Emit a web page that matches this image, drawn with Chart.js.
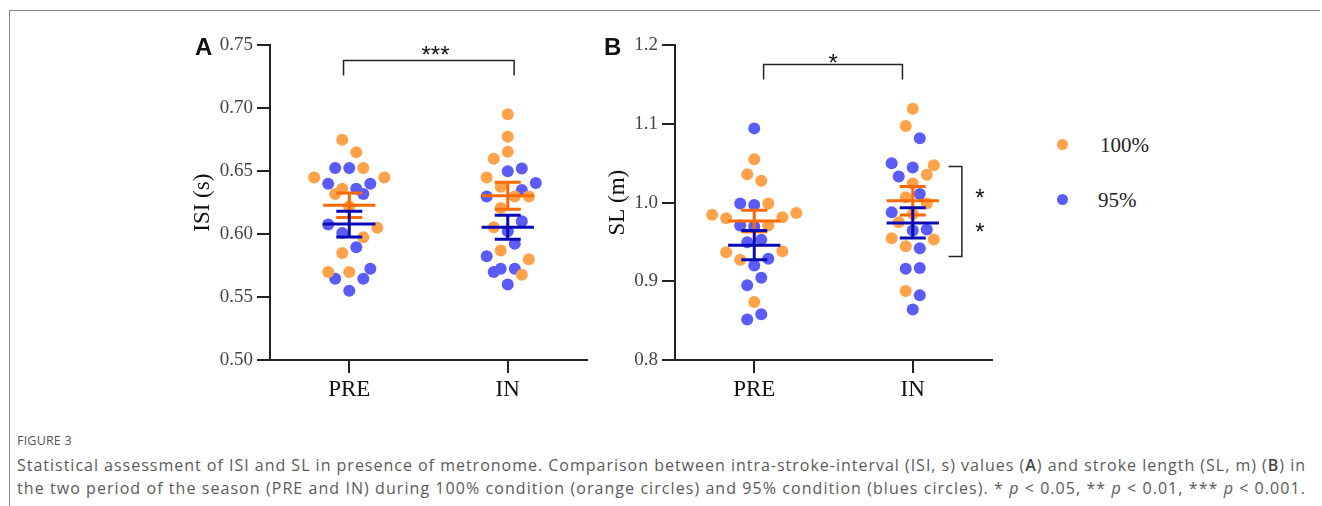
<!DOCTYPE html>
<html><head><meta charset="utf-8">
<script src="https://cdn.jsdelivr.net/npm/chart.js@4.4.0/dist/chart.umd.min.js"></script>
<style>
html,body{margin:0;padding:0;background:#fff;width:1322px;height:506px;overflow:hidden;}
#frame{position:absolute;left:9px;top:10px;width:1310px;height:500px;border-top:1px solid #8a8a8a;border-left:1px solid #8a8a8a;}
canvas{position:absolute;}
#ca{left:180px;top:30px;}
#cb{left:590px;top:30px;}
.panel{position:absolute;font:bold 24px "Liberation Sans",Arial,sans-serif;color:#111;line-height:24px;}
.leg{position:absolute;font:21px "Liberation Serif","Times New Roman",serif;color:#222;line-height:24px;}
.dot{position:absolute;width:11px;height:11px;border-radius:50%;}
#fig{position:absolute;left:17px;top:432px;font:12.5px "Open Sans",sans-serif;color:#555;letter-spacing:0.2px;}
#cap{position:absolute;left:17px;top:454px;font:16px "Open Sans",sans-serif;color:#5a5a5a;line-height:22.5px;white-space:nowrap;}
#cap span{display:inline-block;}
#cap b{color:#444;font-weight:600;}
</style></head>
<body>
<div id="frame"></div>
<canvas id="ca" width="420" height="385"></canvas>
<canvas id="cb" width="420" height="385"></canvas>
<div class="panel" style="left:195px;top:35px;">A</div>
<div class="panel" style="left:604px;top:35px;">B</div>
<div class="dot" id="d100" style="left:1057px;top:139px;"></div>
<div class="leg" id="l100" style="left:1100px;top:133px;"></div>
<div class="dot" id="d95" style="left:1057px;top:194px;"></div>
<div class="leg" id="l95" style="left:1098px;top:188px;"></div>
<div id="fig">FIGURE 3</div>
<div id="cap"><span class="ln">Statistical assessment of ISI and SL in presence of metronome. Comparison between intra-stroke-interval (ISI, s) values (<b>A</b>) and stroke length (SL, m) (<b>B</b>) in</span><br><span class="ln">the two period of the season (PRE and IN) during 100% condition (orange circles) and 95% condition (blues circles). * <i>p</i> &lt; 0.05, ** <i>p</i> &lt; 0.01, *** <i>p</i> &lt; 0.001.</span></div>
<script>
// ---------- data ----------
const categories = ['PRE', 'IN'];
const seriesNames = ['100%', '95%'];

// Panel A: ISI (s)
const isiPre100 = [0.675, 0.665, 0.6525, 0.645, 0.645, 0.636, 0.632, 0.622, 0.605, 0.5975, 0.585, 0.570, 0.570];
const isiPre100Slot = [-1, 1, 2, -5, 5, -1, -2, 0, 4, 2, -1, -3, 0];
const isiPre95 = [0.6525, 0.6525, 0.640, 0.640, 0.636, 0.632, 0.6076, 0.601, 0.5896, 0.5726, 0.5646, 0.5646, 0.555];
const isiPre95Slot = [-2, 0, -3, 3, 1, 2, -3, -1, 1, 3, -2, 2, 0];
const isiIn100 = [0.6952, 0.6775, 0.6654, 0.660, 0.645, 0.6377, 0.630, 0.630, 0.6208, 0.6055, 0.587, 0.580, 0.5678];
const isiIn100Slot = [0, 0, 0, -2, -3, -1, 1, 3, -1, -2, -1, 3, 2];
const isiIn95 = [0.650, 0.6521, 0.6406, 0.635, 0.630, 0.6102, 0.6023, 0.5923, 0.5825, 0.570, 0.5726, 0.5726, 0.560];
const isiIn95Slot = [0, 2, 4, 2, -3, 2, 0, 1, -3, -2, -1, 1, 0];
const isiMean100 = [0.6230, 0.6305];
const isiSem100 = [0.0097, 0.0107];
const isiMean95 = [0.6080, 0.6055];
const isiSem95 = [0.0102, 0.0095];
const isiTicks = [0.50, 0.55, 0.60, 0.65, 0.70, 0.75];

// Panel B: SL (m)
const slPre100 = [1.0553, 1.0363, 1.0278, 0.9991, 0.9848, 0.987, 0.9801, 0.9814, 0.9709, 0.9371, 0.9384, 0.9275, 0.8738];
const slPre100Slot = [0, -1, 1, 2, -6, 6, -4, 4, 2, -4, 4, -2, 0];
const slPre95 = [1.0945, 0.9991, 0.997, 0.9709, 0.9696, 0.9528, 0.9498, 0.9287, 0.9203, 0.9047, 0.8949, 0.8582, 0.8515];
const slPre95Slot = [0, -2, 0, -2, 0, 1, -1, 2, 0, 1, -1, 1, -1];
const slIn100 = [1.1194, 1.0975, 1.0477, 1.0354, 1.0245, 1.0068, 0.9991, 0.9857, 0.975, 0.9548, 0.9532, 0.9447, 0.8877];
const slIn100Slot = [0, -1, 3, 2, 0, -1, 2, 0, -2, -3, 3, -1, -1];
const slIn95 = [1.0819, 1.0502, 1.0447, 1.0333, 1.011, 0.9877, 0.9646, 0.9658, 0.9422, 0.9161, 0.9169, 0.8823, 0.8642];
const slIn95Slot = [1, -3, 0, -2, 1, -3, 0, 2, 1, -1, 1, 1, 0];
const slMean100 = [0.9768, 1.0025];
const slSem100 = [0.0137, 0.0180];
const slMean95 = [0.9460, 0.9743];
const slSem95 = [0.0185, 0.0193];
const slTicks = [0.8, 0.9, 1.0, 1.1, 1.2];

// ---------- styles ----------
const ORANGE = '#FFA24A', BLUE = '#5B5BF7', ORANGE_D = '#FF6A00', BLUE_D = '#0A0AB4';
const SLOT = 0.0443;        // beeswarm step in category units
const MEAN_HW = 0.165, CAP_HW = 0.082;
const SERIF = '"Liberation Serif","Times New Roman",serif';

document.getElementById('d100').style.background = ORANGE;
document.getElementById('d95').style.background = BLUE;
document.getElementById('l100').textContent = seriesNames[0];
document.getElementById('l95').textContent = seriesNames[1];

// fit caption lines to the reference width
document.querySelectorAll('#cap .ln').forEach(el => {
  const target = 1289;
  const w = el.getBoundingClientRect().width;
  const n = el.textContent.length;
  el.style.letterSpacing = ((target - w) / n) + 'px';
});

function swarm(vals, slots, cat) {
  return vals.map((v, i) => ({ x: cat + slots[i] * SLOT, y: v }));
}
function errBars(means, sems) {
  const pts = [];
  means.forEach((m, c) => {
    const s = sems[c];
    pts.push({x: c - MEAN_HW, y: m}, {x: c + MEAN_HW, y: m}, {x: c, y: null});
    pts.push({x: c, y: m - s}, {x: c, y: m + s}, {x: c, y: null});
    pts.push({x: c - CAP_HW, y: m + s}, {x: c + CAP_HW, y: m + s}, {x: c, y: null});
    pts.push({x: c - CAP_HW, y: m - s}, {x: c + CAP_HW, y: m - s}, {x: c, y: null});
  });
  return pts;
}
function lineDs(data, color, width) {
  return { data, showLine: true, borderColor: color, borderWidth: width, pointRadius: 0,
           spanGaps: false, fill: false, borderCapStyle: 'butt' };
}
function dotDs(data, color) {
  return { data, showLine: false, pointRadius: 6, pointHoverRadius: 6, pointBackgroundColor: color,
           pointBorderWidth: 0, borderColor: color };
}

const annotPlugin = {
  id: 'annot',
  afterDraw(chart, args, opts) {
    const { ctx, scales: { x, y } } = chart;
    ctx.save();
    ctx.font = opts.font; ctx.fillStyle = opts.color;
    ctx.textAlign = 'center'; ctx.textBaseline = 'alphabetic';
    (opts.items || []).forEach(it => {
      ctx.fillText(it.text, x.getPixelForValue(it.x), y.getPixelForValue(it.y) + opts.size * 0.575);
    });
    ctx.restore();
  }
};

function makeChart(id, datasets, yMin, yMax, yStep, dec, yTitle, yWidth, titlePad, padRight, items) {
  return new Chart(document.getElementById(id), {
    type: 'scatter',
    data: { datasets },
    plugins: [annotPlugin],
    options: {
      responsive: false, animation: false, devicePixelRatio: 1,
      layout: { padding: { top: 14, right: padRight, left: 0, bottom: 0 } },
      plugins: { legend: { display: false }, tooltip: { enabled: false },
        annot: { font: '24px "Liberation Sans",Arial,sans-serif', size: 24, color: '#111', items } },
      scales: {
        x: {
          type: 'linear', min: -0.5, max: 1.5,
          afterBuildTicks: s => { s.ticks = categories.map((c, i) => ({ value: i })); },
          afterFit: s => { s.height = 55; },
          ticks: { callback: v => categories[Math.round(v)], font: { family: SERIF, size: 23 }, color: '#111', padding: 3, maxRotation: 0 },
          grid: { drawOnChartArea: false, tickLength: 13, color: '#222', lineWidth: 2 },
          border: { color: '#222', width: 2 }
        },
        y: {
          min: yMin, max: yMax,
          ticks: { stepSize: yStep, callback: v => v.toFixed(dec), font: { family: SERIF, size: 19 }, color: '#444', padding: 4 },
          afterFit: s => { s.width = yWidth; },
          grid: { drawOnChartArea: false, tickLength: 13, color: '#222', lineWidth: 2 },
          border: { color: '#222', width: 2 },
          title: { display: true, text: yTitle, font: { family: SERIF, size: 23 }, color: '#111', padding: { top: titlePad, bottom: 0 } }
        }
      }
    }
  });
}

// Panel A
makeChart('ca', [
  lineDs(errBars(isiMean95, isiSem95), BLUE_D, 3),
  lineDs(errBars(isiMean100, isiSem100), ORANGE_D, 3),
  lineDs([{x: -0.036, y: 0.726}, {x: -0.036, y: 0.738}, {x: 1.04, y: 0.738}, {x: 1.04, y: 0.726}], '#222', 1.5),
  dotDs(swarm(isiPre100, isiPre100Slot, 0).concat(swarm(isiIn100, isiIn100Slot, 1)), ORANGE),
  dotDs(swarm(isiPre95, isiPre95Slot, 0).concat(swarm(isiIn95, isiIn95Slot, 1)), BLUE)
], 0.5, 0.75, 0.05, 2, 'ISI (s)', 90, 9, 13, [{ text: '***', x: 0.544, y: 0.7472 }]);

// Panel B
makeChart('cb', [
  lineDs(errBars(slMean95, slSem95), BLUE_D, 3),
  lineDs(errBars(slMean100, slSem100), ORANGE_D, 3),
  lineDs([{x: 0.059, y: 1.1566}, {x: 0.059, y: 1.1756}, {x: 0.935, y: 1.1756}, {x: 0.935, y: 1.1566}], '#222', 1.5),
  lineDs([{x: 1.226, y: 1.0459}, {x: 1.31, y: 1.0459}, {x: 1.31, y: 0.9316}, {x: 1.226, y: 0.9316}], '#222', 1.5),
  dotDs(swarm(slPre100, slPre100Slot, 0).concat(swarm(slIn100, slIn100Slot, 1)), ORANGE),
  dotDs(swarm(slPre95, slPre95Slot, 0).concat(swarm(slIn95, slIn95Slot, 1)), BLUE)
], 0.8, 1.2, 0.1, 1, 'SL (m)', 85, 14, 18, [
  { text: '*', x: 0.498, y: 1.1852 }, { text: '*', x: 1.424, y: 1.013 }, { text: '*', x: 1.424, y: 0.9696 }
]);
</script>
</body></html>
